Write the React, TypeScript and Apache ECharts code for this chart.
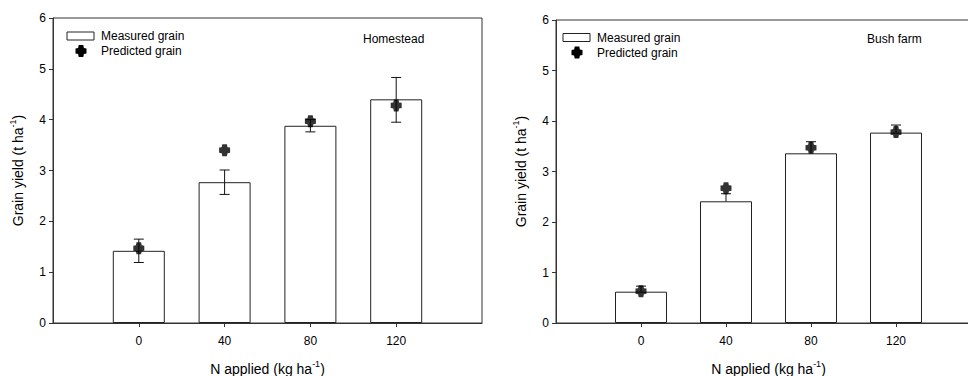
import React, { useEffect, useRef } from "react";
import * as echarts from "echarts";

const nLevels = [0, 40, 80, 120];
const tickLabels = ["0", "40", "80", "120"];

const homeMeasured = [1.42, 2.77, 3.88, 4.4];
const homeErrHigh = [1.65, 3.01, 4.0, 4.83];
const homeErrLow = [1.19, 2.53, 3.76, 3.95];
const homePredicted = [1.47, 3.4, 3.97, 4.28];

const bushMeasured = [0.62, 2.41, 3.36, 3.77];
const bushErrHigh = [0.73, 2.56, 3.59, 3.92];
const bushErrLow = [0.62, 2.41, 3.36, 3.77];
const bushPredicted = [0.63, 2.67, 3.47, 3.78];

const FONT = "'Liberation Sans', Arial, sans-serif";
const AX = "#333";
const MARK = "path://M3.2,0H7.8L8.4,3L11,3.4V8.6L8.4,9L7.8,12H3.2L2.6,9L0,8.6V3.4L2.6,3Z";
const MARK_PTS = [[3.2, 0], [7.8, 0], [8.4, 3], [11, 3.4], [11, 8.6], [8.4, 9], [7.8, 12], [3.2, 12], [2.6, 9], [0, 8.6], [0, 3.4], [2.6, 3]];

const richName = {
  a: { fontSize: 14, fontFamily: FONT, color: "#000", lineHeight: 20 },
  s: { fontSize: 9, fontFamily: FONT, color: "#000", verticalAlign: "top", lineHeight: 10 },
};

function xAxisCfg(gridIndex: number) {
  return {
    type: "value",
    gridIndex,
    min: -40,
    max: 160,
    interval: 40,
    splitLine: { show: false },
    axisLine: { show: true, onZero: false, lineStyle: { color: AX, width: 1 } },
    axisTick: { show: true, length: 4, inside: false, customValues: nLevels, lineStyle: { color: AX } },
    axisLabel: {
      show: true,
      customValues: nLevels,
      margin: 12,
      color: "#000",
      fontFamily: FONT,
      fontSize: 12,
      formatter: (v: number) => {
        const i = nLevels.indexOf(v);
        return i >= 0 ? tickLabels[i] : "";
      },
    },
    name: "{a|N applied (kg ha}{s|-1}{a|)}",
    nameLocation: "middle",
    nameGap: 36,
    nameTextStyle: { fontFamily: FONT, rich: richName },
  };
}

function yAxisCfg(gridIndex: number) {
  return {
    type: "value",
    gridIndex,
    min: 0,
    max: 6,
    interval: 1,
    splitLine: { show: false },
    axisLine: { show: true, onZero: false, lineStyle: { color: AX, width: 1 } },
    axisTick: { show: true, length: 4, inside: false, lineStyle: { color: AX } },
    axisLabel: { margin: 7, color: "#000", fontFamily: FONT, fontSize: 12 },
    name: "{a|Grain yield (t ha}{s|-1}{a|)}",
    nameLocation: "middle",
    nameGap: 25,
    nameRotate: 90,
    nameTextStyle: { fontFamily: FONT, rich: richName },
  };
}

function meanOf(idx: number, x: number) {
  const i = nLevels.indexOf(x);
  return idx === 0 ? homeMeasured[i] : bushMeasured[i];
}

function errSeries(idx: number, hi: number[], lo: number[]) {
  return {
    type: "custom",
    xAxisIndex: idx,
    yAxisIndex: idx,
    z: 3,
    data: nLevels.map((x, i) => [x, lo[i], hi[i]]),
    renderItem: (params: any, api: any) => {
      const x = api.value(0);
      const pLo = api.coord([x, api.value(1)]);
      const pHi = api.coord([x, api.value(2)]);
      const cap = 5;
      const style = { stroke: "#111", lineWidth: 1 };
      const children: any[] = [
        { type: "line", shape: { x1: pHi[0], y1: pHi[1], x2: pLo[0], y2: pLo[1] }, style },
        { type: "line", shape: { x1: pHi[0] - cap, y1: pHi[1], x2: pHi[0] + cap, y2: pHi[1] }, style },
      ];
      if (api.value(1) < meanOf(idx, x)) {
        children.push({ type: "line", shape: { x1: pLo[0] - cap, y1: pLo[1], x2: pLo[0] + cap, y2: pLo[1] }, style });
      }
      return { type: "group", children };
    },
  };
}

function barSeries(idx: number, vals: number[]) {
  return {
    type: "bar",
    xAxisIndex: idx,
    yAxisIndex: idx,
    barWidth: 52,
    z: 2,
    data: nLevels.map((x, i) => [x, vals[i]]),
    itemStyle: { color: "#fff", borderColor: "#222", borderWidth: 1 },
  };
}

function predSeries(idx: number, vals: number[]) {
  return {
    type: "scatter",
    xAxisIndex: idx,
    yAxisIndex: idx,
    z: 4,
    symbol: MARK,
    symbolSize: [11, 12],
    data: nLevels.map((x, i) => [x, vals[i]]),
    itemStyle: { color: "#000" },
  };
}

function legendGraphics(x0: number, y0: number) {
  return [
    {
      type: "rect",
      shape: { x: x0, y: y0, width: 27, height: 8 },
      style: { fill: "#fff", stroke: "#222", lineWidth: 1 },
    },
    {
      type: "text",
      x: x0 + 34,
      y: y0 + 4,
      style: { text: "Measured grain", font: `12px ${FONT}`, fill: "#000", verticalAlign: "middle" },
    },
    {
      type: "polygon",
      x: x0 + 8.5,
      y: y0 + 13,
      shape: { points: MARK_PTS },
      style: { fill: "#000" },
    },
    {
      type: "text",
      x: x0 + 34,
      y: y0 + 19,
      style: { text: "Predicted grain", font: `12px ${FONT}`, fill: "#000", verticalAlign: "middle" },
    },
  ];
}

export default function App() {
  const ref = useRef<HTMLDivElement>(null);
  useEffect(() => {
    if (!ref.current) return;
    const chart = echarts.init(ref.current, null, { renderer: "svg" });
    chart.setOption({
      animation: false,
      backgroundColor: "#fff",
      grid: [
        {
          left: 53, top: 18, width: 429, height: 305,
          outerBoundsMode: "none", containLabel: false,
          show: true, borderColor: AX, borderWidth: 1, backgroundColor: "transparent",
        },
        {
          left: 556, top: 20, width: 425, height: 303,
          outerBoundsMode: "none", containLabel: false,
          show: true, borderColor: AX, borderWidth: 1, backgroundColor: "transparent",
        },
      ],
      xAxis: [xAxisCfg(0), xAxisCfg(1)],
      yAxis: [yAxisCfg(0), yAxisCfg(1)],
      series: [
        barSeries(0, homeMeasured),
        errSeries(0, homeErrHigh, homeErrLow),
        predSeries(0, homePredicted),
        barSeries(1, bushMeasured),
        errSeries(1, bushErrHigh, bushErrLow),
        predSeries(1, bushPredicted),
      ],
      graphic: [
        ...legendGraphics(67, 32),
        ...legendGraphics(563, 33.5),
        {
          type: "text",
          x: 363,
          y: 39,
          style: { text: "Homestead", font: `12px ${FONT}`, fill: "#000", verticalAlign: "middle" },
        },
        {
          type: "text",
          x: 867,
          y: 39,
          style: { text: "Bush farm", font: `12px ${FONT}`, fill: "#000", verticalAlign: "middle" },
        },
      ],
    });
    return () => chart.dispose();
  }, []);
  return (
    <div
      ref={ref}
      style={{ position: "fixed", left: 0, top: 0, width: 968, height: 376, background: "#fff" }}
    />
  );
}
